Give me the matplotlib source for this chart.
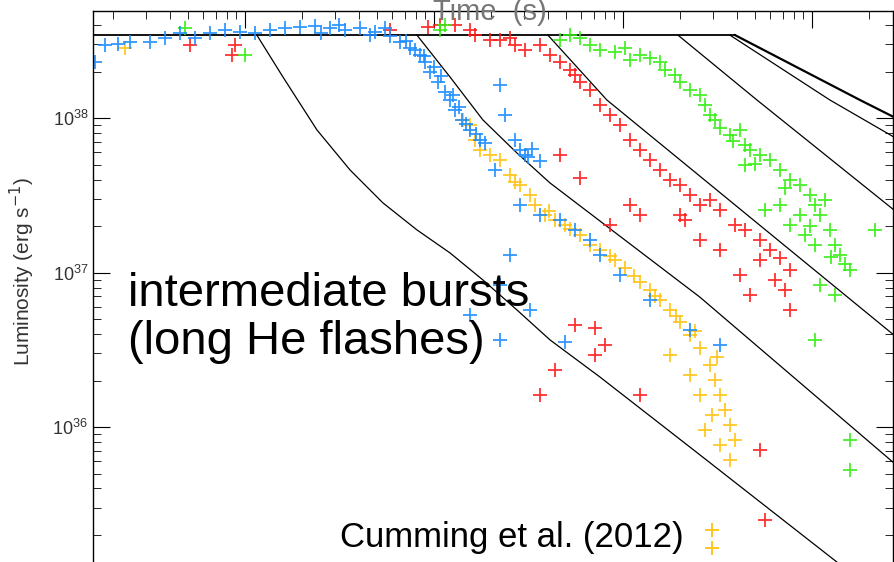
import numpy as np
import matplotlib
import matplotlib.pyplot as plt
from matplotlib.ticker import LogLocator, NullFormatter

matplotlib.use("Agg")
plt.rcParams['font.family'] = ['Liberation Sans', 'DejaVu Sans']

# burst light curves, log10(time / s) and log10(L / erg s^-1)
blue_logt = [0.206, 0.259, 0.328, 0.392, 0.497, 0.577, 0.656, 0.735, 0.815, 0.894, 0.974, 1.053, 1.132,
             1.212, 1.291, 1.370, 1.450, 1.529, 1.608, 1.688, 1.767, 1.820, 1.873, 1.926, 1.952, 1.979,
             2.021, 2.058, 2.085, 2.111, 2.148, 2.190, 2.349, 2.243, 2.376, 2.429, 2.455, 2.481, 2.323,
             2.455, 2.561, 2.667, 2.746, 2.825, 2.878, 2.984, 3.143, 3.354, 3.513, 2.402, 2.349, 2.508,
             2.190, 2.349, 2.693, 1.40, 1.50, 1.66, 1.74, 1.85, 1.90, 1.95, 2.00, 2.04, 2.10, 2.13, 2.17,
             2.22, 2.27, 2.52, 2.50, 2.56]
blue_logL = [38.363, 38.473, 38.479, 38.492, 38.492, 38.518, 38.550, 38.518, 38.550, 38.570, 38.557, 38.550,
             38.570, 38.583, 38.589, 38.596, 38.583, 38.570, 38.583, 38.557, 38.531, 38.492, 38.453, 38.408,
             38.363, 38.298, 38.233, 38.169, 38.117, 38.052, 37.988, 37.923, 38.214, 37.858, 38.020, 37.858,
             37.794, 37.761, 37.664, 37.438, 37.373, 37.341, 37.276, 37.211, 37.114, 36.985, 36.823, 36.629,
             36.532, 37.114, 36.920, 36.758, 36.726, 36.564, 36.551, 38.55, 38.60, 38.54, 38.58, 38.50,
             38.44, 38.40, 38.33, 38.27, 38.15, 38.07, 37.96, 37.90, 37.84, 37.80, 37.75, 37.72]

yellow_logt = [0.365, 2.153, 2.190, 2.217, 2.243, 2.296, 2.349, 2.402, 2.429, 2.455, 2.534, 2.587, 2.640,
               2.693, 2.772, 2.825, 2.878, 2.958, 3.011, 3.090, 3.143, 3.196, 3.249, 3.302, 3.354, 3.407,
               3.460, 3.487, 3.513, 3.540, 3.566, 3.593, 3.566, 3.513, 3.434, 3.471, 3.407, 3.354, 3.249,
               2.51, 2.61, 2.72, 2.93, 3.06, 3.17, 3.28, 3.38, 3.50]
yellow_logL = [38.453, 37.988, 37.955, 37.858, 37.794, 37.761, 37.729, 37.632, 37.587, 37.567, 37.438,
               37.373, 37.341, 37.308, 37.244, 37.179, 37.147, 37.082, 37.030, 36.939, 36.888, 36.823,
               36.758, 36.681, 36.596, 36.512, 36.402, 36.305, 36.208, 36.111, 36.014, 35.917, 35.788,
               35.885, 35.982, 36.079, 36.208, 36.338, 36.467, 37.50, 37.40, 37.28, 37.11, 36.98, 36.85,
               36.72, 36.62, 36.45]

red_logt = [0.709, 0.931, 0.947, 1.767, 1.968, 2.032, 2.111, 2.190, 2.217, 2.296, 2.349, 2.402, 2.429,
            2.481, 2.561, 2.614, 2.667, 2.720, 2.746, 2.772, 2.825, 2.878, 2.931, 2.984, 3.037, 3.090,
            3.143, 3.196, 3.249, 3.302, 3.354, 3.407, 3.460, 3.513, 3.593, 3.646, 3.725, 3.778, 3.831,
            3.884, 3.328, 3.407, 3.513, 3.619, 3.725, 3.804, 3.857, 2.667, 2.772, 3.037, 3.090, 2.931,
            3.302, 3.672, 3.884, 2.852, 2.561, 2.640, 2.746, 2.852, 2.905, 3.090, 3.725, 3.751]
red_logL = [38.473, 38.408, 38.473, 38.570, 38.589, 38.602, 38.602, 38.570, 38.538, 38.505, 38.505, 38.518,
            38.473, 38.441, 38.473, 38.408, 38.363, 38.311, 38.279, 38.233, 38.182, 38.085, 38.020, 37.955,
            37.858, 37.794, 37.729, 37.664, 37.599, 37.567, 37.502, 37.438, 37.470, 37.405, 37.308, 37.276,
            37.211, 37.147, 37.095, 37.017, 37.341, 37.211, 37.147, 36.985, 37.082, 36.952, 36.888, 37.761,
            37.612, 37.438, 37.373, 37.308, 37.373, 36.855, 36.758, 36.642, 36.208, 36.370, 36.661, 36.467,
            36.532, 36.208, 35.852, 35.395]

green_logt = [0.683, 1.000, 2.032, 2.058, 2.667, 2.720, 2.772, 2.825, 2.878, 2.958, 3.011, 3.037, 3.090,
              3.143, 3.196, 3.222, 3.275, 3.302, 3.354, 3.407, 3.434, 3.460, 3.487, 3.513, 3.566, 3.619,
              3.646, 3.672, 3.725, 3.778, 3.646, 3.831, 3.884, 3.937, 3.989, 4.016, 3.937, 4.042, 4.069,
              4.095, 4.122, 4.148, 4.016, 3.831, 3.751, 3.884, 3.963, 4.175, 4.201, 4.042, 4.122, 4.016,
              4.201, 4.201, 4.333, 3.58, 3.70, 3.86, 3.99, 4.10]
green_logL = [38.583, 38.408, 38.570, 38.602, 38.505, 38.538, 38.518, 38.473, 38.441, 38.428, 38.453, 38.376,
              38.408, 38.389, 38.363, 38.311, 38.279, 38.233, 38.182, 38.149, 38.085, 38.020, 37.988, 37.936,
              37.891, 37.923, 37.826, 37.794, 37.761, 37.729, 37.697, 37.664, 37.599, 37.567, 37.502, 37.438,
              37.373, 37.373, 37.470, 37.276, 37.179, 37.114, 37.179, 37.438, 37.405, 37.308, 37.244, 37.053,
              37.017, 36.920, 36.855, 36.564, 35.917, 35.723, 37.276, 37.85, 37.70, 37.55, 37.30, 37.10]

# cooling models: plateau then decline (log10 t, log10 L)
plateau_logt = [0.196, 3.593]
plateau_logL = [38.537, 38.537]
model_logt = [
    [1.063, 1.201, 1.381, 1.556, 1.730, 1.910, 2.085, 2.259, 2.439, 2.614, 2.878, 3.407, 4.132],
    [1.910, 2.085, 2.259, 2.439, 2.614, 3.407, 4.434],
    [2.603, 2.915, 4.434],
    [3.291, 3.709, 4.434],
    [3.566, 4.095, 4.434],
    [3.593, 4.254, 4.434],
]
model_logL = [
    [38.537, 38.266, 37.923, 37.664, 37.451, 37.276, 37.127, 36.952, 36.758, 36.564, 36.324, 35.820, 35.126],
    [38.537, 38.266, 37.988, 37.774, 37.580, 36.841, 35.767],
    [38.537, 38.117, 36.595],
    [38.537, 38.117, 37.405],
    [38.537, 38.117, 37.877],
    [38.537, 38.117, 38.006],
]
model_width = [0.9, 0.9, 0.9, 0.9, 0.9, 1.6]

fig = plt.figure(figsize=(8.94, 5.62), dpi=100)
ax = fig.add_axes([93 / 894, -30 / 562, 800 / 894, 581 / 562])

ax.plot(10 ** np.array(plateau_logt), 10 ** np.array(plateau_logL), color="black", lw=1.3)
for lt, lL, w in zip(model_logt, model_logL, model_width):
    ax.plot(10 ** np.array(lt), 10 ** np.array(lL), color="black", lw=w)

series = [(yellow_logt, yellow_logL, "#ffc20e"), (red_logt, red_logL, "#ff1a1a"),
          (green_logt, green_logL, "#33ee11"), (blue_logt, blue_logL, "#1a8cff")]
for lt, lL, c in series:
    ax.plot(10 ** np.array(lt), 10 ** np.array(lL), "+", color=c, ms=10, mew=1.3, alpha=0.9)

ax.set_xscale("log")
ax.set_yscale("log")
ax.set_xlim(10 ** 0.196, 10 ** 4.429)
ax.set_ylim(10 ** 34.932, 10 ** 38.693)
ax.yaxis.set_major_locator(LogLocator(base=10, numticks=10))
ax.yaxis.set_minor_locator(LogLocator(base=10, subs=np.arange(2, 10), numticks=20))
ax.yaxis.set_minor_formatter(NullFormatter())
ax.xaxis.set_major_formatter(NullFormatter())
ax.xaxis.set_minor_formatter(NullFormatter())
ax.tick_params(which="both", direction="in", top=True, right=True, bottom=False, labelsize=13,
               labelcolor="#333333")
ax.tick_params(which="major", length=12)
ax.tick_params(which="minor", length=6)
for s in ax.spines.values():
    s.set_linewidth(1.0)

fig.text(22 / 894, 1 - 272 / 562, "Luminosity (erg s$^{-1}$)", fontsize=15, color="#333333",
         rotation=90, ha="center", va="center")
fig.text(0.548, 0.979, "Time  (s)", fontsize=21, color="#777777", ha="center", va="center")

fig.text(128 / 894, 1 - 318 / 562, "intermediate bursts\n(long He flashes)", fontsize=34,
         linespacing=1.1, va="center")
fig.text(340 / 894, 1 - 538 / 562, "Cumming et al. (2012)", fontsize=25, va="center")
fig.lines.append(plt.Line2D([0.796, 0.796], [0.057, 0.025], ls="none", marker="+", ms=10, mew=1.3,
                            color="#ffc20e", transform=fig.transFigure))

fig.savefig("out.png", dpi=100)
